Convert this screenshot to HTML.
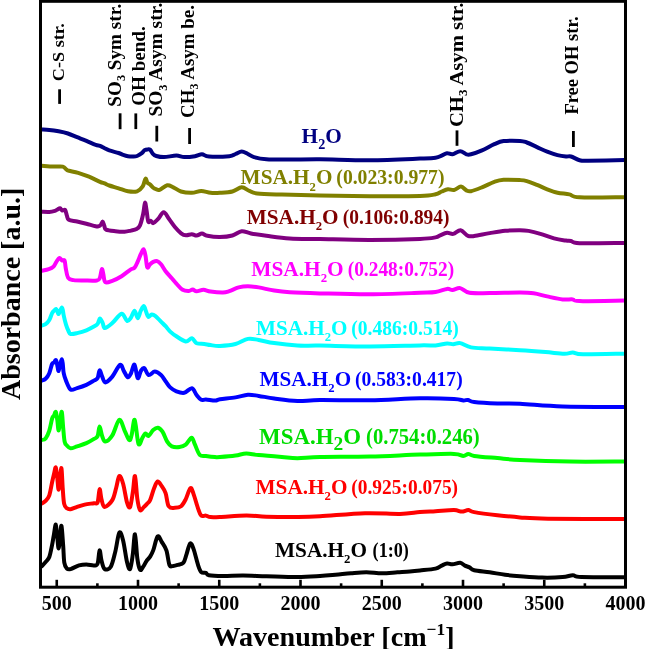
<!DOCTYPE html><html><head><meta charset="utf-8"><style>html,body{margin:0;padding:0;background:#fff;overflow:hidden;}svg{display:block;will-change:transform;}text{font-family:"Liberation Serif",serif;font-weight:bold;}</style></head><body>
<svg width="646" height="649" viewBox="0 0 646 649">
<rect width="646" height="649" fill="#fff"/>
<path d="M41.60,129.50 C42.88,129.57 46.47,129.60 49.30,129.90 C52.13,130.20 55.50,130.70 58.60,131.30 C61.70,131.90 64.82,132.52 67.90,133.50 C70.98,134.48 74.02,135.97 77.10,137.20 C80.18,138.43 83.30,139.63 86.40,140.90 C89.50,142.17 93.43,143.98 95.70,144.80 C97.97,145.62 98.52,145.23 100.00,145.80 C101.48,146.37 103.05,147.43 104.60,148.20 C106.15,148.97 106.97,149.60 109.30,150.40 C111.63,151.20 116.28,152.25 118.60,153.00 C120.92,153.75 121.65,154.37 123.20,154.90 C124.75,155.43 126.27,155.93 127.90,156.20 C129.53,156.47 131.47,156.53 133.00,156.50 C134.53,156.47 135.63,156.55 137.10,156.00 C138.57,155.45 140.55,154.17 141.80,153.20 C143.05,152.23 143.65,150.83 144.60,150.20 C145.55,149.57 146.55,149.45 147.50,149.40 C148.45,149.35 149.40,149.15 150.30,149.90 C151.20,150.65 151.90,152.88 152.90,153.90 C153.90,154.92 154.45,155.47 156.30,156.00 C158.15,156.53 160.65,157.17 164.00,157.10 C167.35,157.03 173.03,155.60 176.40,155.60 C179.77,155.60 181.10,157.00 184.20,157.10 C187.30,157.20 192.03,156.67 195.00,156.20 C197.97,155.73 199.67,154.23 202.00,154.30 C204.33,154.37 204.45,156.28 209.00,156.60 C213.55,156.92 224.88,156.63 229.30,156.20 C233.72,155.77 233.43,154.78 235.50,154.00 C237.57,153.22 239.63,151.50 241.70,151.50 C243.77,151.50 245.85,153.07 247.90,154.00 C249.95,154.93 250.92,156.22 254.00,157.10 C257.08,157.98 260.45,158.88 266.40,159.30 C272.35,159.72 280.77,159.60 289.70,159.60 C298.63,159.60 306.62,159.20 320.00,159.30 C333.38,159.40 353.33,160.32 370.00,160.20 C386.67,160.08 409.08,159.02 420.00,158.60 C430.92,158.18 431.88,158.20 435.50,157.70 C439.12,157.20 439.78,156.35 441.70,155.60 C443.62,154.85 445.20,153.42 447.00,153.20 C448.80,152.98 450.30,154.63 452.50,154.30 C454.70,153.97 457.88,151.20 460.20,151.20 C462.52,151.20 464.60,153.78 466.40,154.30 C468.20,154.82 468.40,154.95 471.00,154.30 C473.60,153.65 478.12,152.08 482.00,150.40 C485.88,148.72 490.70,145.75 494.30,144.20 C497.90,142.65 499.32,141.65 503.60,141.10 C507.88,140.55 516.13,140.67 520.00,140.90 C523.87,141.13 523.97,141.47 526.80,142.50 C529.63,143.53 533.60,145.57 537.00,147.10 C540.40,148.63 543.78,150.37 547.20,151.70 C550.62,153.03 554.37,154.30 557.50,155.10 C560.63,155.90 563.75,156.27 566.00,156.50 C568.25,156.73 568.73,155.88 571.00,156.50 C573.27,157.12 576.77,159.50 579.60,160.20 C582.43,160.90 580.47,160.72 588.00,160.70 C595.53,160.68 618.67,160.20 624.80,160.10" fill="none" stroke="#000080" stroke-width="4.0" stroke-linejoin="round" stroke-linecap="round"/>
<path d="M41.60,165.80 C43.58,165.93 49.97,166.47 53.50,166.60 C57.03,166.73 60.62,166.08 62.80,166.60 C64.98,167.12 65.57,169.00 66.60,169.70 C67.63,170.40 67.07,170.28 69.00,170.80 C70.93,171.32 74.87,171.82 78.20,172.80 C81.53,173.78 85.37,175.20 89.00,176.70 C92.63,178.20 97.40,180.68 100.00,181.80 C102.60,182.92 103.05,182.78 104.60,183.40 C106.15,184.02 106.97,184.68 109.30,185.50 C111.63,186.32 115.50,187.33 118.60,188.30 C121.70,189.27 124.82,190.80 127.90,191.30 C130.98,191.80 134.63,192.12 137.10,191.30 C139.57,190.48 141.30,188.50 142.70,186.40 C144.10,184.30 144.72,179.32 145.50,178.70 C146.28,178.08 146.63,181.72 147.40,182.70 C148.17,183.68 149.18,183.80 150.10,184.60 C151.02,185.40 151.92,186.73 152.90,187.50 C153.88,188.27 154.88,188.80 156.00,189.20 C157.12,189.60 157.73,190.55 159.60,189.90 C161.47,189.25 164.92,185.73 167.20,185.30 C169.48,184.87 171.00,186.27 173.30,187.30 C175.60,188.33 177.90,190.58 181.00,191.50 C184.10,192.42 188.53,192.90 191.90,192.80 C195.27,192.70 198.10,190.90 201.20,190.90 C204.30,190.90 207.37,192.48 210.50,192.80 C213.63,193.12 216.35,193.02 220.00,192.80 C223.65,192.58 228.78,192.42 232.40,191.50 C236.02,190.58 238.87,187.40 241.70,187.30 C244.53,187.20 246.82,189.87 249.40,190.90 C251.98,191.93 251.78,192.88 257.20,193.50 C262.62,194.12 271.43,194.27 281.90,194.60 C292.37,194.93 305.32,195.23 320.00,195.50 C334.68,195.77 353.33,196.12 370.00,196.20 C386.67,196.28 409.08,196.32 420.00,196.00 C430.92,195.68 431.88,195.05 435.50,194.30 C439.12,193.55 439.63,192.33 441.70,191.50 C443.77,190.67 445.85,189.55 447.90,189.30 C449.95,189.05 451.82,190.45 454.00,190.00 C456.18,189.55 458.93,186.53 461.00,186.60 C463.07,186.67 464.73,189.63 466.40,190.40 C468.07,191.17 468.40,191.72 471.00,191.20 C473.60,190.68 478.12,188.85 482.00,187.30 C485.88,185.75 490.70,183.15 494.30,181.90 C497.90,180.65 499.32,180.10 503.60,179.80 C507.88,179.50 516.13,179.88 520.00,180.10 C523.87,180.32 523.97,180.30 526.80,181.10 C529.63,181.90 533.60,183.53 537.00,184.90 C540.40,186.27 543.78,188.00 547.20,189.30 C550.62,190.60 553.80,191.85 557.50,192.70 C561.20,193.55 565.72,193.63 569.40,194.40 C573.08,195.17 570.37,196.83 579.60,197.30 C588.83,197.77 617.27,197.22 624.80,197.20" fill="none" stroke="#808000" stroke-width="4.0" stroke-linejoin="round" stroke-linecap="round"/>
<path d="M41.60,211.70 C42.88,211.73 47.08,212.05 49.30,211.90 C51.52,211.75 53.53,211.20 54.90,210.80 C56.27,210.40 56.65,209.93 57.50,209.50 C58.35,209.07 59.20,208.03 60.00,208.20 C60.80,208.37 61.45,210.22 62.30,210.50 C63.15,210.78 64.33,209.05 65.10,209.90 C65.87,210.75 66.28,213.95 66.90,215.60 C67.52,217.25 67.10,218.82 68.80,219.80 C70.50,220.78 74.17,220.83 77.10,221.50 C80.03,222.17 83.30,223.00 86.40,223.80 C89.50,224.60 93.70,225.88 95.70,226.30 C97.70,226.72 97.57,226.52 98.40,226.30 C99.23,226.08 99.98,225.78 100.70,225.00 C101.42,224.22 102.10,221.47 102.70,221.60 C103.30,221.73 103.73,224.47 104.30,225.80 C104.87,227.13 104.25,228.70 106.10,229.60 C107.95,230.50 112.30,230.85 115.40,231.20 C118.50,231.55 122.12,231.80 124.70,231.70 C127.28,231.60 128.93,231.03 130.90,230.60 C132.87,230.17 134.98,229.97 136.50,229.10 C138.02,228.23 138.88,227.95 140.00,225.40 C141.12,222.85 142.37,217.58 143.20,213.80 C144.03,210.02 144.43,203.22 145.00,202.70 C145.57,202.18 146.05,207.55 146.60,210.70 C147.15,213.85 147.58,219.92 148.30,221.60 C149.02,223.28 150.08,220.55 150.90,220.80 C151.72,221.05 152.03,223.37 153.20,223.10 C154.37,222.83 156.15,221.00 157.90,219.20 C159.65,217.40 161.90,212.42 163.70,212.30 C165.50,212.18 166.83,216.05 168.70,218.50 C170.57,220.95 172.83,224.53 174.90,227.00 C176.97,229.47 179.25,231.92 181.10,233.30 C182.95,234.68 184.22,235.15 186.00,235.30 C187.78,235.45 190.03,234.15 191.80,234.20 C193.57,234.25 194.90,235.70 196.60,235.60 C198.30,235.50 200.20,233.57 202.00,233.60 C203.80,233.63 204.43,235.23 207.40,235.80 C210.37,236.37 215.63,237.05 219.80,237.00 C223.97,236.95 228.75,236.47 232.40,235.50 C236.05,234.53 238.60,231.53 241.70,231.20 C244.80,230.87 246.88,232.73 251.00,233.50 C255.12,234.27 259.95,234.97 266.40,235.80 C272.85,236.63 280.77,237.95 289.70,238.50 C298.63,239.05 306.62,238.87 320.00,239.10 C333.38,239.33 353.33,239.93 370.00,239.90 C386.67,239.87 409.08,239.32 420.00,238.90 C430.92,238.48 432.15,237.98 435.50,237.40 C438.85,236.82 438.17,236.17 440.10,235.40 C442.03,234.63 444.90,233.05 447.10,232.80 C449.30,232.55 451.05,234.32 453.30,233.90 C455.55,233.48 458.15,229.97 460.60,230.30 C463.05,230.63 465.73,234.97 468.00,235.90 C470.27,236.83 470.58,236.37 474.20,235.90 C477.82,235.43 484.55,233.95 489.70,233.10 C494.85,232.25 500.05,231.28 505.10,230.80 C510.15,230.32 516.10,230.18 520.00,230.20 C523.90,230.22 525.10,230.30 528.50,230.90 C531.90,231.50 536.15,232.55 540.40,233.80 C544.65,235.05 549.73,237.27 554.00,238.40 C558.27,239.53 563.17,240.17 566.00,240.60 C568.83,241.03 568.73,240.57 571.00,241.00 C573.27,241.43 570.63,242.88 579.60,243.20 C588.57,243.52 617.27,242.95 624.80,242.90" fill="none" stroke="#800080" stroke-width="4.0" stroke-linejoin="round" stroke-linecap="round"/>
<path d="M41.60,270.80 C42.80,270.53 46.82,269.90 48.80,269.20 C50.78,268.50 52.20,267.88 53.50,266.60 C54.80,265.32 55.62,262.95 56.60,261.50 C57.58,260.05 58.50,258.08 59.40,257.90 C60.30,257.72 61.13,259.93 62.00,260.40 C62.87,260.87 63.97,259.35 64.60,260.70 C65.23,262.05 65.20,265.65 65.80,268.50 C66.40,271.35 66.90,275.87 68.20,277.80 C69.50,279.73 70.90,279.65 73.60,280.10 C76.30,280.55 80.53,280.43 84.40,280.50 C88.27,280.57 94.22,280.95 96.80,280.50 C99.38,280.05 99.07,279.68 99.90,277.80 C100.73,275.92 101.23,269.85 101.80,269.20 C102.37,268.55 102.72,271.75 103.30,273.90 C103.88,276.05 103.80,280.95 105.30,282.10 C106.80,283.25 109.58,281.78 112.30,280.80 C115.02,279.82 118.57,278.07 121.60,276.20 C124.63,274.33 128.33,271.03 130.50,269.60 C132.67,268.17 133.40,268.93 134.60,267.60 C135.80,266.27 136.67,263.83 137.70,261.60 C138.73,259.37 139.82,256.27 140.80,254.20 C141.78,252.13 142.82,248.95 143.60,249.20 C144.38,249.45 144.88,252.68 145.50,255.70 C146.12,258.72 146.53,265.88 147.30,267.30 C148.07,268.72 149.12,265.10 150.10,264.20 C151.08,263.30 152.03,262.42 153.20,261.90 C154.37,261.38 155.80,260.72 157.10,261.10 C158.40,261.48 159.58,262.52 161.00,264.20 C162.42,265.88 163.80,268.87 165.60,271.20 C167.40,273.53 170.00,276.13 171.80,278.20 C173.60,280.27 174.60,281.67 176.40,283.60 C178.20,285.53 180.53,288.57 182.60,289.80 C184.67,291.03 187.12,291.05 188.80,291.00 C190.48,290.95 191.40,289.45 192.70,289.50 C194.00,289.55 194.80,291.25 196.60,291.30 C198.40,291.35 201.18,289.75 203.50,289.80 C205.82,289.85 207.27,291.13 210.50,291.60 C213.73,292.07 219.77,292.67 222.90,292.60 C226.03,292.53 226.68,292.07 229.30,291.20 C231.92,290.33 235.50,288.23 238.60,287.40 C241.70,286.57 244.55,286.20 247.90,286.20 C251.25,286.20 254.32,286.67 258.70,287.40 C263.08,288.13 269.03,289.78 274.20,290.60 C279.37,291.42 282.07,291.83 289.70,292.30 C297.33,292.77 306.62,293.07 320.00,293.40 C333.38,293.73 353.33,294.40 370.00,294.30 C386.67,294.20 409.08,293.18 420.00,292.80 C430.92,292.42 430.98,292.65 435.50,292.00 C440.02,291.35 444.27,289.23 447.10,288.90 C449.93,288.57 450.32,290.13 452.50,290.00 C454.68,289.87 457.37,287.63 460.20,288.10 C463.03,288.57 464.58,291.97 469.50,292.80 C474.42,293.63 481.28,293.13 489.70,293.10 C498.12,293.07 512.68,292.57 520.00,292.60 C527.32,292.63 529.07,292.67 533.60,293.30 C538.13,293.93 542.37,295.38 547.20,296.40 C552.03,297.42 558.33,298.90 562.60,299.40 C566.87,299.90 569.97,299.12 572.80,299.40 C575.63,299.68 570.93,300.92 579.60,301.10 C588.27,301.28 617.27,300.60 624.80,300.50" fill="none" stroke="#FF00FF" stroke-width="4.0" stroke-linejoin="round" stroke-linecap="round"/>
<path d="M41.60,325.60 C42.27,325.37 44.32,325.12 45.60,324.20 C46.88,323.28 48.22,321.95 49.30,320.10 C50.38,318.25 51.28,314.70 52.10,313.10 C52.92,311.50 53.55,311.20 54.20,310.50 C54.85,309.80 55.47,308.73 56.00,308.90 C56.53,309.07 56.97,310.65 57.40,311.50 C57.83,312.35 58.13,314.17 58.60,314.00 C59.07,313.83 59.67,311.58 60.20,310.50 C60.73,309.42 61.37,307.58 61.80,307.50 C62.23,307.42 62.48,308.68 62.80,310.00 C63.12,311.32 63.17,312.95 63.70,315.40 C64.23,317.85 65.20,322.10 66.00,324.70 C66.80,327.30 67.73,329.45 68.50,331.00 C69.27,332.55 69.17,333.65 70.60,334.00 C72.03,334.35 74.47,333.72 77.10,333.10 C79.73,332.48 83.60,331.38 86.40,330.30 C89.20,329.22 92.03,327.67 93.90,326.60 C95.77,325.53 96.60,325.25 97.60,323.90 C98.60,322.55 99.05,318.63 99.90,318.50 C100.75,318.37 101.87,321.50 102.70,323.10 C103.53,324.70 103.30,328.10 104.90,328.10 C106.50,328.10 109.52,325.48 112.30,323.10 C115.08,320.72 119.15,314.18 121.60,313.80 C124.05,313.42 125.45,320.15 127.00,320.80 C128.55,321.45 129.63,319.38 130.90,317.70 C132.17,316.02 133.47,310.62 134.60,310.70 C135.73,310.78 136.67,318.20 137.70,318.20 C138.73,318.20 139.77,312.72 140.80,310.70 C141.83,308.68 142.98,305.83 143.90,306.10 C144.82,306.37 145.57,310.50 146.30,312.30 C147.03,314.10 147.40,316.52 148.30,316.90 C149.20,317.28 150.50,314.73 151.70,314.60 C152.90,314.47 153.95,314.93 155.50,316.10 C157.05,317.27 159.32,319.92 161.00,321.60 C162.68,323.28 164.07,324.53 165.60,326.20 C167.13,327.87 168.40,329.92 170.20,331.60 C172.00,333.28 173.82,334.67 176.40,336.30 C178.98,337.93 183.12,341.07 185.70,341.40 C188.28,341.73 190.08,338.00 191.90,338.30 C193.72,338.60 194.53,342.25 196.60,343.20 C198.67,344.15 201.98,343.68 204.30,344.00 C206.62,344.32 207.88,344.78 210.50,345.10 C213.12,345.42 215.83,346.08 220.00,345.90 C224.17,345.72 230.85,345.17 235.50,344.00 C240.15,342.83 244.03,339.57 247.90,338.90 C251.77,338.23 254.32,339.30 258.70,340.00 C263.08,340.70 267.75,342.18 274.20,343.10 C280.65,344.02 289.77,345.08 297.40,345.50 C305.03,345.92 307.90,345.45 320.00,345.60 C332.10,345.75 353.33,346.43 370.00,346.40 C386.67,346.37 409.08,345.57 420.00,345.40 C430.92,345.23 430.98,345.73 435.50,345.40 C440.02,345.07 444.13,343.58 447.10,343.40 C450.07,343.22 451.12,344.35 453.30,344.30 C455.48,344.25 457.23,342.58 460.20,343.10 C463.17,343.62 466.18,346.50 471.10,347.40 C476.02,348.30 481.55,348.03 489.70,348.50 C497.85,348.97 510.70,349.60 520.00,350.20 C529.30,350.80 538.12,351.50 545.50,352.10 C552.88,352.70 559.75,353.72 564.30,353.80 C568.85,353.88 569.68,352.52 572.80,352.60 C575.92,352.68 574.33,354.12 583.00,354.30 C591.67,354.48 617.83,353.80 624.80,353.70" fill="none" stroke="#00FFFF" stroke-width="4.0" stroke-linejoin="round" stroke-linecap="round"/>
<path d="M41.60,380.60 C42.27,380.30 44.32,380.03 45.60,378.80 C46.88,377.57 48.22,375.68 49.30,373.20 C50.38,370.72 51.32,365.68 52.10,363.90 C52.88,362.12 53.35,363.12 54.00,362.50 C54.65,361.88 55.43,359.62 56.00,360.20 C56.57,360.78 56.97,364.20 57.40,366.00 C57.83,367.80 58.13,371.33 58.60,371.00 C59.07,370.67 59.67,365.95 60.20,364.00 C60.73,362.05 61.37,359.30 61.80,359.30 C62.23,359.30 62.48,361.68 62.80,364.00 C63.12,366.32 63.17,370.43 63.70,373.20 C64.23,375.97 64.85,377.88 66.00,380.60 C67.15,383.32 68.75,388.25 70.60,389.50 C72.45,390.75 74.47,388.88 77.10,388.10 C79.73,387.32 83.60,386.05 86.40,384.80 C89.20,383.55 92.03,381.72 93.90,380.60 C95.77,379.48 96.65,379.80 97.60,378.10 C98.55,376.40 98.83,370.65 99.60,370.40 C100.37,370.15 101.25,374.60 102.20,376.60 C103.15,378.60 103.62,382.40 105.30,382.40 C106.98,382.40 109.85,379.52 112.30,376.60 C114.75,373.68 118.07,365.82 120.00,364.90 C121.93,363.98 122.60,369.03 123.90,371.10 C125.20,373.17 126.63,376.90 127.80,377.30 C128.97,377.70 129.78,375.62 130.90,373.50 C132.02,371.38 133.37,363.83 134.50,364.60 C135.63,365.37 136.65,377.02 137.70,378.10 C138.75,379.18 139.72,372.78 140.80,371.10 C141.88,369.42 142.90,367.35 144.20,368.00 C145.50,368.65 146.83,374.40 148.60,375.00 C150.37,375.60 152.73,371.60 154.80,371.60 C156.87,371.60 159.20,373.40 161.00,375.00 C162.80,376.60 164.07,379.13 165.60,381.20 C167.13,383.27 168.40,385.72 170.20,387.40 C172.00,389.08 174.07,390.40 176.40,391.30 C178.73,392.20 181.62,393.32 184.20,392.80 C186.78,392.28 189.83,387.82 191.90,388.20 C193.97,388.58 195.05,393.17 196.60,395.10 C198.15,397.03 199.65,399.07 201.20,399.80 C202.75,400.53 203.58,399.37 205.90,399.50 C208.22,399.63 212.75,400.63 215.10,400.60 C217.45,400.57 216.60,399.83 220.00,399.30 C223.40,398.77 230.85,398.17 235.50,397.40 C240.15,396.63 244.03,394.95 247.90,394.70 C251.77,394.45 254.32,395.27 258.70,395.90 C263.08,396.53 267.75,397.65 274.20,398.50 C280.65,399.35 289.77,400.75 297.40,401.00 C305.03,401.25 307.90,400.12 320.00,400.00 C332.10,399.88 353.33,400.58 370.00,400.30 C386.67,400.02 406.00,398.53 420.00,398.30 C434.00,398.07 446.78,398.55 454.00,398.90 C461.22,399.25 460.97,400.22 463.30,400.40 C465.63,400.58 466.18,399.73 468.00,400.00 C469.82,400.27 469.30,401.42 474.20,402.00 C479.10,402.58 489.77,403.20 497.40,403.50 C505.03,403.80 509.13,403.30 520.00,403.80 C530.87,404.30 545.13,405.97 562.60,406.50 C580.07,407.03 614.43,406.92 624.80,407.00" fill="none" stroke="#0000FF" stroke-width="4.0" stroke-linejoin="round" stroke-linecap="round"/>
<path d="M41.60,440.00 C42.27,439.75 44.32,440.07 45.60,438.50 C46.88,436.93 48.22,433.92 49.30,430.60 C50.38,427.28 51.32,421.12 52.10,418.60 C52.88,416.08 53.38,416.60 54.00,415.50 C54.62,414.40 55.25,411.25 55.80,412.00 C56.35,412.75 56.83,416.90 57.30,420.00 C57.77,423.10 58.12,430.60 58.60,430.60 C59.08,430.60 59.67,423.10 60.20,420.00 C60.73,416.90 61.30,410.68 61.80,412.00 C62.30,413.32 62.73,422.98 63.20,427.90 C63.67,432.82 63.98,438.57 64.60,441.50 C65.22,444.43 65.90,444.37 66.90,445.50 C67.90,446.63 68.90,448.15 70.60,448.30 C72.30,448.45 74.47,447.25 77.10,446.40 C79.73,445.55 83.60,444.43 86.40,443.20 C89.20,441.97 92.03,440.17 93.90,439.00 C95.77,437.83 96.65,438.27 97.60,436.20 C98.55,434.13 98.83,426.60 99.60,426.60 C100.37,426.60 101.25,433.70 102.20,436.20 C103.15,438.70 103.62,441.73 105.30,441.60 C106.98,441.47 109.97,439.02 112.30,435.40 C114.63,431.78 117.23,420.67 119.30,419.90 C121.37,419.13 123.03,427.43 124.70,430.80 C126.37,434.17 128.13,439.45 129.30,440.10 C130.47,440.75 130.80,438.07 131.70,434.70 C132.60,431.33 133.57,418.37 134.70,419.90 C135.83,421.43 137.22,440.92 138.50,443.90 C139.78,446.88 141.23,439.55 142.40,437.80 C143.57,436.05 144.47,433.72 145.50,433.40 C146.53,433.08 147.32,436.47 148.60,435.90 C149.88,435.33 151.65,431.37 153.20,430.00 C154.75,428.63 156.35,427.43 157.90,427.70 C159.45,427.97 160.95,429.28 162.50,431.60 C164.05,433.92 165.65,439.15 167.20,441.60 C168.75,444.05 169.75,445.40 171.80,446.30 C173.85,447.20 177.18,447.27 179.50,447.00 C181.82,446.73 183.68,446.23 185.70,444.70 C187.72,443.17 190.05,437.80 191.60,437.80 C193.15,437.80 193.65,441.87 195.00,444.70 C196.35,447.53 197.88,452.92 199.70,454.80 C201.52,456.68 203.33,455.62 205.90,456.00 C208.47,456.38 212.75,456.92 215.10,457.10 C217.45,457.28 216.60,457.35 220.00,457.10 C223.40,456.85 231.12,456.20 235.50,455.60 C239.88,455.00 242.43,453.58 246.30,453.50 C250.17,453.42 252.77,454.50 258.70,455.10 C264.63,455.70 275.45,456.58 281.90,457.10 C288.35,457.62 291.05,458.20 297.40,458.20 C303.75,458.20 307.90,457.38 320.00,457.10 C332.10,456.82 353.33,456.92 370.00,456.50 C386.67,456.08 406.00,455.03 420.00,454.60 C434.00,454.17 446.78,453.68 454.00,453.90 C461.22,454.12 460.92,455.90 463.30,455.90 C465.68,455.90 466.48,453.90 468.30,453.90 C470.12,453.90 469.35,455.20 474.20,455.90 C479.05,456.60 489.77,457.42 497.40,458.10 C505.03,458.78 507.90,459.42 520.00,460.00 C532.10,460.58 552.53,461.35 570.00,461.60 C587.47,461.85 615.67,461.52 624.80,461.50" fill="none" stroke="#00FF00" stroke-width="4.0" stroke-linejoin="round" stroke-linecap="round"/>
<path d="M41.60,503.60 C42.27,503.15 44.32,502.28 45.60,500.90 C46.88,499.52 48.22,498.40 49.30,495.30 C50.38,492.20 51.32,485.85 52.10,482.30 C52.88,478.75 53.38,476.48 54.00,474.00 C54.62,471.52 55.25,466.73 55.80,467.40 C56.35,468.07 56.83,474.28 57.30,478.00 C57.77,481.72 58.13,489.70 58.60,489.70 C59.07,489.70 59.62,481.55 60.10,478.00 C60.58,474.45 61.07,466.75 61.50,468.40 C61.93,470.05 62.27,482.03 62.70,487.90 C63.13,493.77 63.40,500.20 64.10,503.60 C64.80,507.00 65.82,507.37 66.90,508.30 C67.98,509.23 68.90,509.43 70.60,509.20 C72.30,508.97 74.77,507.67 77.10,506.90 C79.43,506.13 81.80,505.22 84.60,504.60 C87.40,503.98 91.73,503.57 93.90,503.20 C96.07,502.83 96.65,504.73 97.60,502.40 C98.55,500.07 98.95,489.72 99.60,489.20 C100.25,488.68 100.67,496.33 101.50,499.30 C102.33,502.27 102.80,506.87 104.60,507.00 C106.40,507.13 110.37,503.32 112.30,500.10 C114.23,496.88 115.03,491.70 116.20,487.70 C117.37,483.70 118.15,476.75 119.30,476.10 C120.45,475.45 121.82,479.42 123.10,483.80 C124.38,488.18 125.83,498.53 127.00,502.40 C128.17,506.27 129.12,508.80 130.10,507.00 C131.08,505.20 132.08,496.75 132.90,491.60 C133.72,486.45 134.25,474.82 135.00,476.10 C135.75,477.38 136.55,493.63 137.40,499.30 C138.25,504.97 139.02,508.82 140.10,510.10 C141.18,511.38 142.75,508.03 143.90,507.00 C145.05,505.97 145.97,505.05 147.00,503.90 C148.03,502.75 148.93,502.67 150.10,500.10 C151.27,497.53 152.75,491.60 154.00,488.50 C155.25,485.40 156.32,481.90 157.60,481.50 C158.88,481.10 160.37,484.17 161.70,486.10 C163.03,488.03 164.43,489.73 165.60,493.10 C166.77,496.47 167.15,503.85 168.70,506.30 C170.25,508.75 172.83,507.80 174.90,507.80 C176.97,507.80 179.30,507.72 181.10,506.30 C182.90,504.88 184.15,502.32 185.70,499.30 C187.25,496.28 189.10,489.10 190.40,488.20 C191.70,487.30 192.22,490.50 193.50,493.90 C194.78,497.30 196.82,504.98 198.10,508.60 C199.38,512.22 199.90,514.43 201.20,515.60 C202.50,516.77 204.35,515.35 205.90,515.60 C207.45,515.85 208.15,516.87 210.50,517.10 C212.85,517.33 214.03,517.27 220.00,517.00 C225.97,516.73 238.57,515.55 246.30,515.50 C254.03,515.45 257.88,516.45 266.40,516.70 C274.92,516.95 288.47,517.07 297.40,517.00 C306.33,516.93 308.73,516.93 320.00,516.30 C331.27,515.67 351.67,513.60 365.00,513.20 C378.33,512.80 390.83,514.08 400.00,513.90 C409.17,513.72 414.08,512.55 420.00,512.10 C425.92,511.65 429.83,511.53 435.50,511.20 C441.17,510.87 449.62,510.03 454.00,510.10 C458.38,510.17 459.42,511.60 461.80,511.60 C464.18,511.60 466.23,510.02 468.30,510.10 C470.37,510.18 469.35,511.25 474.20,512.10 C479.05,512.95 489.77,514.32 497.40,515.20 C505.03,516.08 511.57,516.82 520.00,517.40 C528.43,517.98 530.53,518.45 548.00,518.70 C565.47,518.95 612.00,518.87 624.80,518.90" fill="none" stroke="#FF0000" stroke-width="4.0" stroke-linejoin="round" stroke-linecap="round"/>
<path d="M41.60,566.30 C42.27,565.58 44.32,563.55 45.60,562.00 C46.88,560.45 48.22,559.85 49.30,557.00 C50.38,554.15 51.32,548.73 52.10,544.90 C52.88,541.07 53.38,537.40 54.00,534.00 C54.62,530.60 55.25,524.00 55.80,524.50 C56.35,525.00 56.83,532.98 57.30,537.00 C57.77,541.02 58.13,548.60 58.60,548.60 C59.07,548.60 59.62,540.78 60.10,537.00 C60.58,533.22 60.98,524.42 61.50,525.90 C62.02,527.38 62.73,539.78 63.20,545.90 C63.67,552.02 63.68,558.82 64.30,562.60 C64.92,566.38 65.85,567.52 66.90,568.60 C67.95,569.68 68.58,569.63 70.60,569.10 C72.62,568.57 76.37,566.18 79.00,565.40 C81.63,564.62 83.92,564.40 86.40,564.40 C88.88,564.40 92.03,565.53 93.90,565.40 C95.77,565.27 96.65,566.10 97.60,563.60 C98.55,561.10 98.95,550.92 99.60,550.40 C100.25,549.88 100.67,557.40 101.50,560.50 C102.33,563.60 103.05,567.97 104.60,569.00 C106.15,570.03 109.00,569.67 110.80,566.70 C112.60,563.73 113.98,556.88 115.40,551.20 C116.82,545.52 118.02,534.40 119.30,532.60 C120.58,530.80 121.82,535.50 123.10,540.40 C124.38,545.30 125.83,557.23 127.00,562.00 C128.17,566.77 129.13,570.28 130.10,569.00 C131.07,567.72 131.98,560.10 132.80,554.30 C133.62,548.50 134.23,533.43 135.00,534.20 C135.77,534.97 136.55,552.97 137.40,558.90 C138.25,564.83 139.13,568.50 140.10,569.80 C141.07,571.10 142.17,568.12 143.20,566.70 C144.23,565.28 145.15,562.98 146.30,561.30 C147.45,559.62 148.95,558.42 150.10,556.60 C151.25,554.78 151.95,553.75 153.20,550.40 C154.45,547.05 156.18,537.92 157.60,536.50 C159.02,535.08 160.23,539.58 161.70,541.90 C163.17,544.22 165.10,546.53 166.40,550.40 C167.70,554.27 168.35,562.52 169.50,565.10 C170.65,567.68 171.88,565.95 173.30,565.90 C174.72,565.85 176.32,565.32 178.00,564.80 C179.68,564.28 181.98,564.55 183.40,562.80 C184.82,561.05 185.38,557.52 186.50,554.30 C187.62,551.08 188.93,544.40 190.10,543.50 C191.27,542.60 192.17,545.30 193.50,548.90 C194.83,552.50 196.82,561.23 198.10,565.10 C199.38,568.97 199.90,570.80 201.20,572.10 C202.50,573.40 204.62,572.38 205.90,572.90 C207.18,573.42 206.07,574.68 208.90,575.20 C211.73,575.72 217.18,575.93 222.90,576.00 C228.62,576.07 235.95,575.55 243.20,575.60 C250.45,575.65 257.37,576.05 266.40,576.30 C275.43,576.55 288.47,577.13 297.40,577.10 C306.33,577.07 313.65,576.48 320.00,576.10 C326.35,575.72 330.33,575.28 335.50,574.80 C340.67,574.32 345.85,573.63 351.00,573.20 C356.15,572.77 361.25,572.18 366.40,572.20 C371.55,572.22 376.73,573.28 381.90,573.30 C387.07,573.32 392.75,572.60 397.40,572.30 C402.05,572.00 406.03,571.80 409.80,571.50 C413.57,571.20 415.72,570.98 420.00,570.50 C424.28,570.02 431.88,569.42 435.50,568.60 C439.12,567.78 439.77,566.45 441.70,565.60 C443.63,564.75 445.30,563.72 447.10,563.50 C448.90,563.28 450.32,564.42 452.50,564.30 C454.68,564.18 458.13,562.58 460.20,562.80 C462.27,563.02 463.35,564.83 464.90,565.60 C466.45,566.37 467.95,566.63 469.50,567.40 C471.05,568.17 470.83,569.38 474.20,570.20 C477.57,571.02 484.55,571.53 489.70,572.30 C494.85,573.07 500.05,574.15 505.10,574.80 C510.15,575.45 513.83,575.73 520.00,576.20 C526.17,576.67 535.00,577.45 542.10,577.60 C549.20,577.75 557.48,577.48 562.60,577.10 C567.72,576.72 569.68,575.30 572.80,575.30 C575.92,575.30 572.63,576.78 581.30,577.10 C589.97,577.42 617.55,577.18 624.80,577.20" fill="none" stroke="#000000" stroke-width="4.0" stroke-linejoin="round" stroke-linecap="round"/>
<rect x="40.5" y="1.3" width="585" height="585.9" fill="none" stroke="#000" stroke-width="3"/>
<line x1="56.75" y1="586" x2="56.75" y2="579.8" stroke="#000" stroke-width="2.6"/>
<line x1="97.38" y1="586" x2="97.38" y2="583.3" stroke="#000" stroke-width="2.6"/>
<line x1="138.00" y1="586" x2="138.00" y2="579.8" stroke="#000" stroke-width="2.6"/>
<line x1="178.62" y1="586" x2="178.62" y2="583.3" stroke="#000" stroke-width="2.6"/>
<line x1="219.25" y1="586" x2="219.25" y2="579.8" stroke="#000" stroke-width="2.6"/>
<line x1="259.88" y1="586" x2="259.88" y2="583.3" stroke="#000" stroke-width="2.6"/>
<line x1="300.50" y1="586" x2="300.50" y2="579.8" stroke="#000" stroke-width="2.6"/>
<line x1="341.12" y1="586" x2="341.12" y2="583.3" stroke="#000" stroke-width="2.6"/>
<line x1="381.75" y1="586" x2="381.75" y2="579.8" stroke="#000" stroke-width="2.6"/>
<line x1="422.38" y1="586" x2="422.38" y2="583.3" stroke="#000" stroke-width="2.6"/>
<line x1="463.00" y1="586" x2="463.00" y2="579.8" stroke="#000" stroke-width="2.6"/>
<line x1="503.62" y1="586" x2="503.62" y2="583.3" stroke="#000" stroke-width="2.6"/>
<line x1="544.25" y1="586" x2="544.25" y2="579.8" stroke="#000" stroke-width="2.6"/>
<line x1="584.88" y1="586" x2="584.88" y2="583.3" stroke="#000" stroke-width="2.6"/>
<line x1="625.50" y1="586" x2="625.50" y2="579.8" stroke="#000" stroke-width="2.6"/>
<text x="56.75" y="610" font-size="20" text-anchor="middle">500</text>
<text x="138.00" y="610" font-size="20" text-anchor="middle">1000</text>
<text x="219.25" y="610" font-size="20" text-anchor="middle">1500</text>
<text x="300.50" y="610" font-size="20" text-anchor="middle">2000</text>
<text x="381.75" y="610" font-size="20" text-anchor="middle">2500</text>
<text x="463.00" y="610" font-size="20" text-anchor="middle">3000</text>
<text x="544.25" y="610" font-size="20" text-anchor="middle">3500</text>
<text x="625.50" y="610" font-size="20" text-anchor="middle">4000</text>
<text x="212.41" y="646" font-size="27.5" textLength="242.16" lengthAdjust="spacingAndGlyphs">Wavenumber [cm<tspan font-size="17" dy="-11">−1</tspan><tspan dy="11">]</tspan></text>
<text transform="translate(19.8,399.8) rotate(-90)" x="-0.27" y="0" font-size="28" textLength="212.35" lengthAdjust="spacingAndGlyphs">Absorbance [a.u.]</text>
<text x="301.64" y="142.8" font-size="21" fill="#000080" textLength="40.10" lengthAdjust="spacingAndGlyphs">H<tspan font-size="14" dy="6.2">2</tspan><tspan dy="-6.2">O</tspan></text>
<text x="240.64" y="184.3" font-size="20" fill="#808000" textLength="91.80" lengthAdjust="spacingAndGlyphs">MSA.H<tspan font-size="12" dy="6.3">2</tspan><tspan dy="-6.3">O</tspan></text>
<text x="336.34" y="184.3" font-size="20" fill="#808000" textLength="108.13" lengthAdjust="spacingAndGlyphs">(0.023:0.977)</text>
<text x="246.74" y="223.6" font-size="20" fill="#800000" textLength="91.90" lengthAdjust="spacingAndGlyphs">MSA.H<tspan font-size="12" dy="6.3">2</tspan><tspan dy="-6.3">O</tspan></text>
<text x="342.75" y="223.6" font-size="20" fill="#800000" textLength="106.71" lengthAdjust="spacingAndGlyphs">(0.106:0.894)</text>
<text x="251.34" y="275.5" font-size="20" fill="#FF00FF" textLength="92.31" lengthAdjust="spacingAndGlyphs">MSA.H<tspan font-size="12" dy="6.3">2</tspan><tspan dy="-6.3">O</tspan></text>
<text x="347.75" y="275.5" font-size="20" fill="#FF00FF" textLength="106.40" lengthAdjust="spacingAndGlyphs">(0.248:0.752)</text>
<text x="256.04" y="334.6" font-size="20" fill="#00FFFF" textLength="91.39" lengthAdjust="spacingAndGlyphs">MSA.H<tspan font-size="12" dy="6.3">2</tspan><tspan dy="-6.3">O</tspan></text>
<text x="351.34" y="334.6" font-size="20" fill="#00FFFF" textLength="107.42" lengthAdjust="spacingAndGlyphs">(0.486:0.514)</text>
<text x="259.54" y="386.1" font-size="20" fill="#0000FF" textLength="91.60" lengthAdjust="spacingAndGlyphs">MSA.H<tspan font-size="12" dy="6.3">2</tspan><tspan dy="-6.3">O</tspan></text>
<text x="355.04" y="386.1" font-size="20" fill="#0000FF" textLength="107.62" lengthAdjust="spacingAndGlyphs">(0.583:0.417)</text>
<text x="259.11" y="443.8" font-size="23" fill="#00DD00" textLength="102.01" lengthAdjust="spacingAndGlyphs">MSA.H<tspan font-size="19.5" dy="6.4">2</tspan><tspan dy="-6.4">O</tspan></text>
<text x="366.09" y="443.8" font-size="23" fill="#00DD00" textLength="113.62" lengthAdjust="spacingAndGlyphs">(0.754:0.246)</text>
<text x="255.54" y="493.6" font-size="20" fill="#FF0000" textLength="91.90" lengthAdjust="spacingAndGlyphs">MSA.H<tspan font-size="12" dy="6.3">2</tspan><tspan dy="-6.3">O</tspan></text>
<text x="351.35" y="493.6" font-size="20" fill="#FF0000" textLength="106.71" lengthAdjust="spacingAndGlyphs">(0.925:0.075)</text>
<text x="275.04" y="556.5" font-size="20" fill="#000000" textLength="92.00" lengthAdjust="spacingAndGlyphs">MSA.H<tspan font-size="12" dy="6.3">2</tspan><tspan dy="-6.3">O</tspan></text>
<text x="372.60" y="556.5" font-size="20" fill="#000000" textLength="36.30" lengthAdjust="spacingAndGlyphs">(1:0)</text>
<text transform="translate(64.4,80.3) rotate(-90)" x="-0.86" y="0" font-size="16.5" textLength="57.94" lengthAdjust="spacingAndGlyphs">C-S str.</text>
<text transform="translate(120.8,105.7) rotate(-90)" x="-1.00" y="0" font-size="19" textLength="102.93" lengthAdjust="spacingAndGlyphs">SO<tspan font-size="12" dy="4.5">3</tspan><tspan dy="-4.5"> Sym str.</tspan></text>
<text transform="translate(145.2,104.8) rotate(-90)" x="-0.93" y="0" font-size="19" textLength="79.37" lengthAdjust="spacingAndGlyphs">OH bend.</text>
<text transform="translate(162,115.6) rotate(-90)" x="-1.01" y="0" font-size="19" textLength="113.94" lengthAdjust="spacingAndGlyphs">SO<tspan font-size="12" dy="4.5">3</tspan><tspan dy="-4.5"> Asym str.</tspan></text>
<text transform="translate(193.5,117) rotate(-90)" x="-0.92" y="0" font-size="19" textLength="112.94" lengthAdjust="spacingAndGlyphs">CH<tspan font-size="12" dy="4.5">3</tspan><tspan dy="-4.5"> Asym be.</tspan></text>
<text transform="translate(462.5,126.1) rotate(-90)" x="-0.98" y="0" font-size="19" textLength="124.47" lengthAdjust="spacingAndGlyphs">CH<tspan font-size="12" dy="4.5">3</tspan><tspan dy="-4.5"> Asym str.</tspan></text>
<text transform="translate(578,114.3) rotate(-90)" x="-0.31" y="0" font-size="19" textLength="98.11" lengthAdjust="spacingAndGlyphs">Free OH str.</text>
<line x1="59.6" y1="89.3" x2="59.6" y2="103.9" stroke="#000" stroke-width="2.8"/>
<line x1="120.1" y1="113.3" x2="120.1" y2="129.2" stroke="#000" stroke-width="2.8"/>
<line x1="135.8" y1="113.4" x2="135.8" y2="129.1" stroke="#000" stroke-width="2.8"/>
<line x1="156.8" y1="125.8" x2="156.8" y2="141.5" stroke="#000" stroke-width="2.8"/>
<line x1="189.6" y1="128" x2="189.6" y2="144" stroke="#000" stroke-width="2.8"/>
<line x1="457" y1="130.4" x2="457" y2="145.8" stroke="#000" stroke-width="2.8"/>
<line x1="573.4" y1="131" x2="573.4" y2="147" stroke="#000" stroke-width="2.8"/>
</svg></body></html>
